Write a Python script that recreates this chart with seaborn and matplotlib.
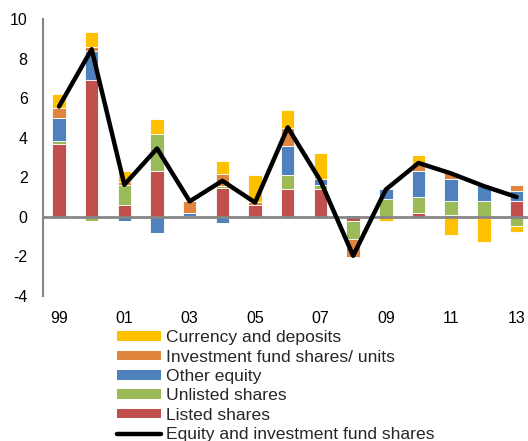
import numpy as np
import matplotlib
matplotlib.use("Agg")
import matplotlib.pyplot as plt
import seaborn as sns
from matplotlib.patches import Patch
from matplotlib.lines import Line2D

# Annual flows, 1999-2013
years = ["99", "00", "01", "02", "03", "04", "05", "06",
         "07", "08", "09", "10", "11", "12", "13"]
tick_labels = ["99", "01", "03", "05", "07", "09", "11", "13"]

listed_shares = [3.70, 6.92, 0.59, 2.31, 0.00, 1.48, 0.60, 1.40,
                 1.40, -0.19, 0.00, 0.20, 0.10, 0.00, 0.79]
unlisted_shares = [0.12, -0.20, 1.01, 1.89, 0.05, 0.08, -0.08, 0.72,
                   0.22, -0.91, 0.89, 0.79, 0.70, 0.81, -0.49]
other_equity = [1.18, 1.48, -0.20, -0.81, 0.13, -0.29, 0.00, 1.46,
                0.29, 0.08, 0.51, 1.33, 1.10, 0.79, 0.52]
fund_shares = [0.50, 0.20, 0.17, 0.00, 0.60, 0.61, 0.16, 0.91,
               -0.08, -0.91, 0.00, 0.30, 0.29, 0.00, 0.29]
currency_deposits = [0.69, 0.72, 0.54, 0.72, 0.00, 0.66, 1.36, 0.93,
                     1.30, 0.00, -0.20, 0.49, -0.91, -1.30, -0.30]
equity_total = [5.57, 8.47, 1.62, 3.45, 0.78, 1.82, 0.72, 4.52,
                1.82, -1.97, 1.38, 2.72, 2.19, 1.55, 1.00]

sns.set_style("white")
plt.rcParams["font.family"] = ["Liberation Sans", "DejaVu Sans"]
plt.rcParams["axes.unicode_minus"] = False

fig = plt.figure(figsize=(5.28, 4.41), dpi=100)
ax = fig.add_axes([0.0814, 0.329, 0.9186, 0.628])

# stacking order, bottom to top
layers = [
    ("Listed shares", listed_shares, "#C0504D"),
    ("Unlisted shares", unlisted_shares, "#9BBB59"),
    ("Other equity", other_equity, "#4F81BD"),
    ("Investment fund shares/ units", fund_shares, "#E0843E"),
    ("Currency and deposits", currency_deposits, "#FFC000"),
]

n = len(years)
pos_base = np.zeros(n)
neg_base = np.zeros(n)
for label, vals, color in layers:
    v = np.asarray(vals, dtype=float)
    pos = np.where(v > 0, v, 0.0)
    neg = np.where(v < 0, v, 0.0)
    for part, base in ((pos, pos_base), (neg, neg_base)):
        sns.barplot(x=years, y=part, bottom=base.copy(), color=color,
                    saturation=1, width=0.41, edgecolor="#FFFFFF",
                    linewidth=0.6, errorbar=None, ax=ax, zorder=2)
    pos_base += pos
    neg_base += neg

ax.axhline(0, color="#868686", lw=2, zorder=2.5)
sns.lineplot(x=np.arange(n), y=equity_total, color="black", linewidth=3.2,
             ax=ax, legend=False, zorder=3)

ax.set_xlim(-0.49, 14.35)
ax.set_ylim(-4, 10)
ax.set_yticks(np.arange(-4, 11, 2))
ax.set_xticks(np.arange(0, n, 2))
ax.set_xticklabels(tick_labels)
ax.set_xlabel("")
ax.set_ylabel("")
ax.tick_params(axis="both", length=0, labelsize=11.5, colors="black")
ax.tick_params(axis="y", pad=11)
ax.tick_params(axis="x", pad=11)
for side in ("top", "right", "bottom"):
    ax.spines[side].set_visible(False)
ax.spines["left"].set_color("#868686")
ax.spines["left"].set_linewidth(1.5)
ax.grid(False)

handles = [Patch(facecolor=c, edgecolor="none", label=l) for l, _, c in layers[::-1]]
handles.append(Line2D([], [], color="black", lw=3.2,
                      label="Equity and investment fund shares"))
fig.legend(handles=handles, loc="upper left", bbox_to_anchor=(0.222, 0.251),
           bbox_transform=fig.transFigure, frameon=False, fontsize=12.6,
           borderpad=0, borderaxespad=0, labelspacing=0.25,
           handlelength=2.5, handleheight=0.475, handletextpad=0.27)

fig.savefig("out.png", dpi=100)
